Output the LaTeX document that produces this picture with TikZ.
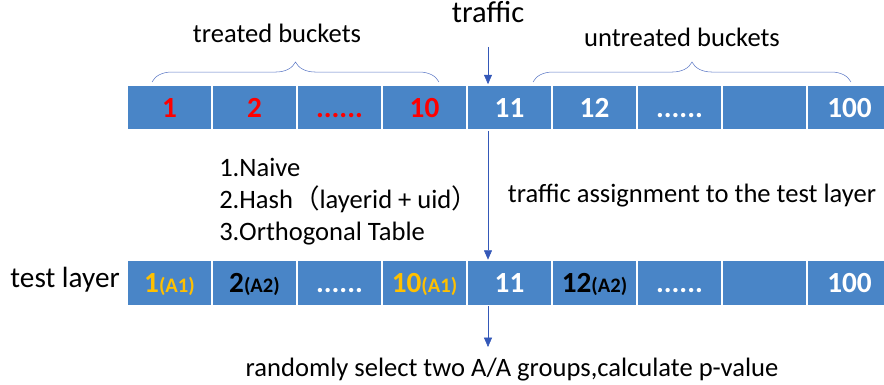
\documentclass[tikz,border=0pt]{standalone}
\usepackage{fontspec}
\setmainfont{Carlito}
\newfontfamily\cjk{Noto Sans CJK SC}
\usepackage{tikz}
\usetikzlibrary{positioning,arrows.meta,decorations.pathreplacing,calc}
\usepackage{xcolor}

\definecolor{cellblue}{RGB}{73,133,199}
\definecolor{flowblue}{RGB}{52,88,184}
\definecolor{gold}{RGB}{255,192,0}

% bucket number with a small group tag
\newcommand{\grp}[2]{#1{\fontsize{15.5}{15.5}\selectfont(#2)}}
% skipped buckets
\newcommand{\skipped}{......}

\begin{document}
\begin{tikzpicture}[
  x=0.02646cm, y=-0.02646cm,
  bucket/.style={draw=white, line width=1.3pt, fill=cellblue, inner sep=0pt,
    minimum width=2.249cm, minimum height=1.19cm, text height=15pt, text depth=0pt,
    font=\fontsize{22}{22}\selectfont\bfseries},
  label/.style={font=\fontsize{20}{24}\selectfont, inner sep=0pt},
  brace/.style={draw=flowblue!80, thin, decorate, decoration={brace, amplitude=15pt}},
  flow/.style={draw=flowblue, thin, -{Triangle[width=6pt,length=7pt]}},
  >=Stealth
]
  \clip (0,0) rectangle (884,385);

  % Bucket rows
  \foreach \i/\col/\lbl in {0/red/1, 1/red/2, 2/red/\skipped, 3/red/10, 4/white/11,
                            5/white/12, 6/white/\skipped, 7/white/, 8/white/100} {
    \node[bucket, text=\col] (t\i) at (169.5+85*\i, 107.5) {\lbl};
  }
  \foreach \i/\col/\lbl in {0/gold/\grp{1}{A1}, 1/black/\grp{2}{A2}, 2/white/\skipped,
                            3/gold/\grp{10}{A1}, 4/white/11, 5/black/\grp{12}{A2},
                            6/white/\skipped, 7/white/, 8/white/100} {
    \node[bucket, text=\col] (b\i) at (169.5+85*\i, 283) {\lbl};
  }

  % Braces over the top row
  \coordinate (tl) at (152,82);
  \coordinate (tr) at (439,82);
  \coordinate (ul) at (533,82);
  \coordinate (ur) at (851,82);
  \draw[brace] (tl) -- (tr);
  \draw[brace] (ul) -- (ur);
  \node[label, anchor=base] (treated) at (277,43) {treated buckets};
  \node[label, anchor=base] (untreated) at (682,47) {untreated buckets};

  % Texts
  \node[label, anchor=base, font=\fontsize{23}{24}\selectfont] (traffic) at (488,23) {traffic};
  \node[label, align=left, anchor=north west] (methods) at (219,158)
    {1.Naive\\2.Hash{\cjk （}layerid + uid{\cjk ）}\\3.Orthogonal Table};
  \node[label, anchor=base] (assign) at (692,203) {traffic assignment to the test layer};
  \node[label, anchor=base east, font=\fontsize{22}{24}\selectfont] (layer) at (120,288) {test layer};
  \node[label, anchor=base] (result) at (512,377) {randomly select two A/A groups,calculate p-value};

  % Traffic flow
  \draw[flow] ($(traffic.base)+(0,24)$) -- (traffic |- t4.north);
  \draw[flow] (traffic |- t4.south) -- (traffic |- b4.north);
  \draw[flow] (traffic |- b4.south) -- ($(traffic |- result.base)+(0,-30)$);
\end{tikzpicture}
\end{document}
